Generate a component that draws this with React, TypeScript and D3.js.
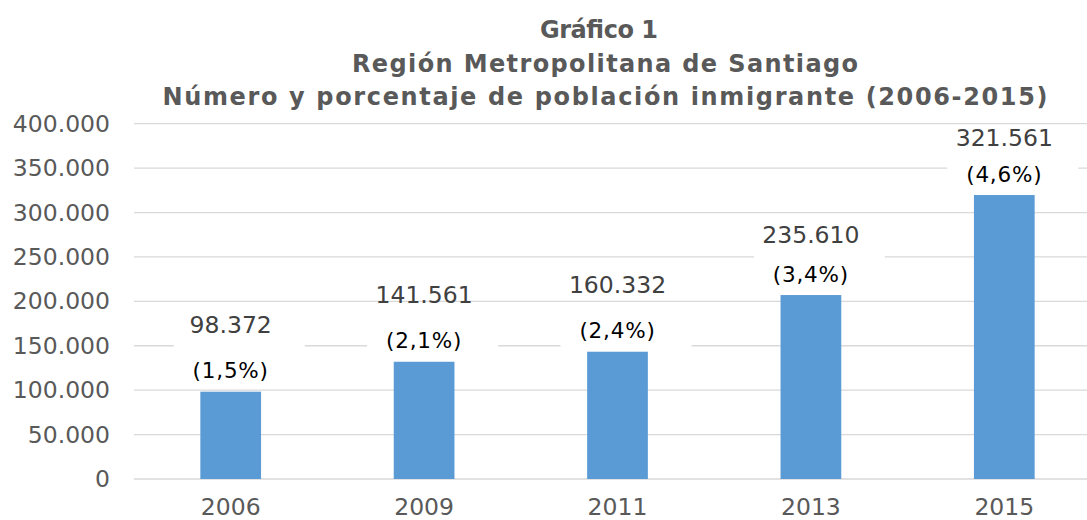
import React from "react";
import * as d3 from "d3";

const years = ["2006", "2009", "2011", "2013", "2015"];
const barValues = [98300, 132000, 143300, 207100, 319700];
const valueLabels = ["98.372", "141.561", "160.332", "235.610", "321.561"];
const pctLabels = ["(1,5%)", "(2,1%)", "(2,4%)", "(3,4%)", "(4,6%)"];
const yTicks = [0, 50000, 100000, 150000, 200000, 250000, 300000, 350000, 400000];
const titleLines = [
  "Gráfico 1",
  "Región Metropolitana de Santiago",
  "Número y porcentaje de población inmigrante (2006-2015)",
];
// layout: rendered widths of the title lines (px) and value-label lift above bar top (px)
const titleWidths = [118, 506, 885];
const valueLift = [67, 67, 67, 60, 57];

const W = 1087;
const H = 520;
const FONT = "'DejaVu Sans', Verdana, sans-serif";

export default function App() {
  const x = d3.scaleBand<string>().domain(years).range([134, 1101]).paddingInner(0.686).paddingOuter(0.343);
  const y = d3.scaleLinear().domain([0, 400000]).range([479, 123.7]);
  const fmt = (v: number) => (v === 0 ? "0" : d3.format(",")(v).replace(/,/g, "."));

  return (
    <svg width={W} height={H} style={{ position: "absolute", left: 0, top: 0, display: "block" }} fontFamily={FONT}>
      <rect x={0} y={0} width={W} height={H} fill="#fff" />
      {titleLines.map((t, i) => (
        <text
          key={t}
          x={i === 0 ? 599 : 605}
          y={30 + i * 33.5}
          textAnchor="middle"
          dominantBaseline="central"
          fontWeight="bold"
          fontSize={24}
          fill="#595959"
          textLength={titleWidths[i]}
          lengthAdjust="spacing"
        >
          {t}
        </text>
      ))}
      {yTicks.map((t) => (
        <g key={t}>
          <line x1={134} x2={W} y1={y(t)} y2={y(t)} stroke="#D9D9D9" strokeWidth={1.3} />
          <text x={110} y={y(t)} textAnchor="end" dominantBaseline="central" fontSize={23.5} fill="#595959">
            {fmt(t)}
          </text>
        </g>
      ))}
      {years.map((yr, i) => {
        const bx = x(yr)!;
        const bw = x.bandwidth();
        const top = y(barValues[i]);
        const cx = bx + bw / 2;
        return (
          <g key={yr}>
            <rect x={bx} y={top} width={bw} height={y(0) - top} fill="#5B9BD5" />
            <rect x={cx - 57} y={top - 48} width={131} height={44} fill="#fff" />
            <text x={cx} y={top - 21} textAnchor="middle" dominantBaseline="central" fontSize={21.5} letterSpacing={0.8} fill="#000">
              {pctLabels[i]}
            </text>
            <text x={cx} y={top - valueLift[i]} textAnchor="middle" dominantBaseline="central" fontSize={23.5} fill="#404040">
              {valueLabels[i]}
            </text>
            <text x={cx} y={507} textAnchor="middle" dominantBaseline="central" fontSize={23.5} fill="#595959">
              {yr}
            </text>
          </g>
        );
      })}
    </svg>
  );
}
